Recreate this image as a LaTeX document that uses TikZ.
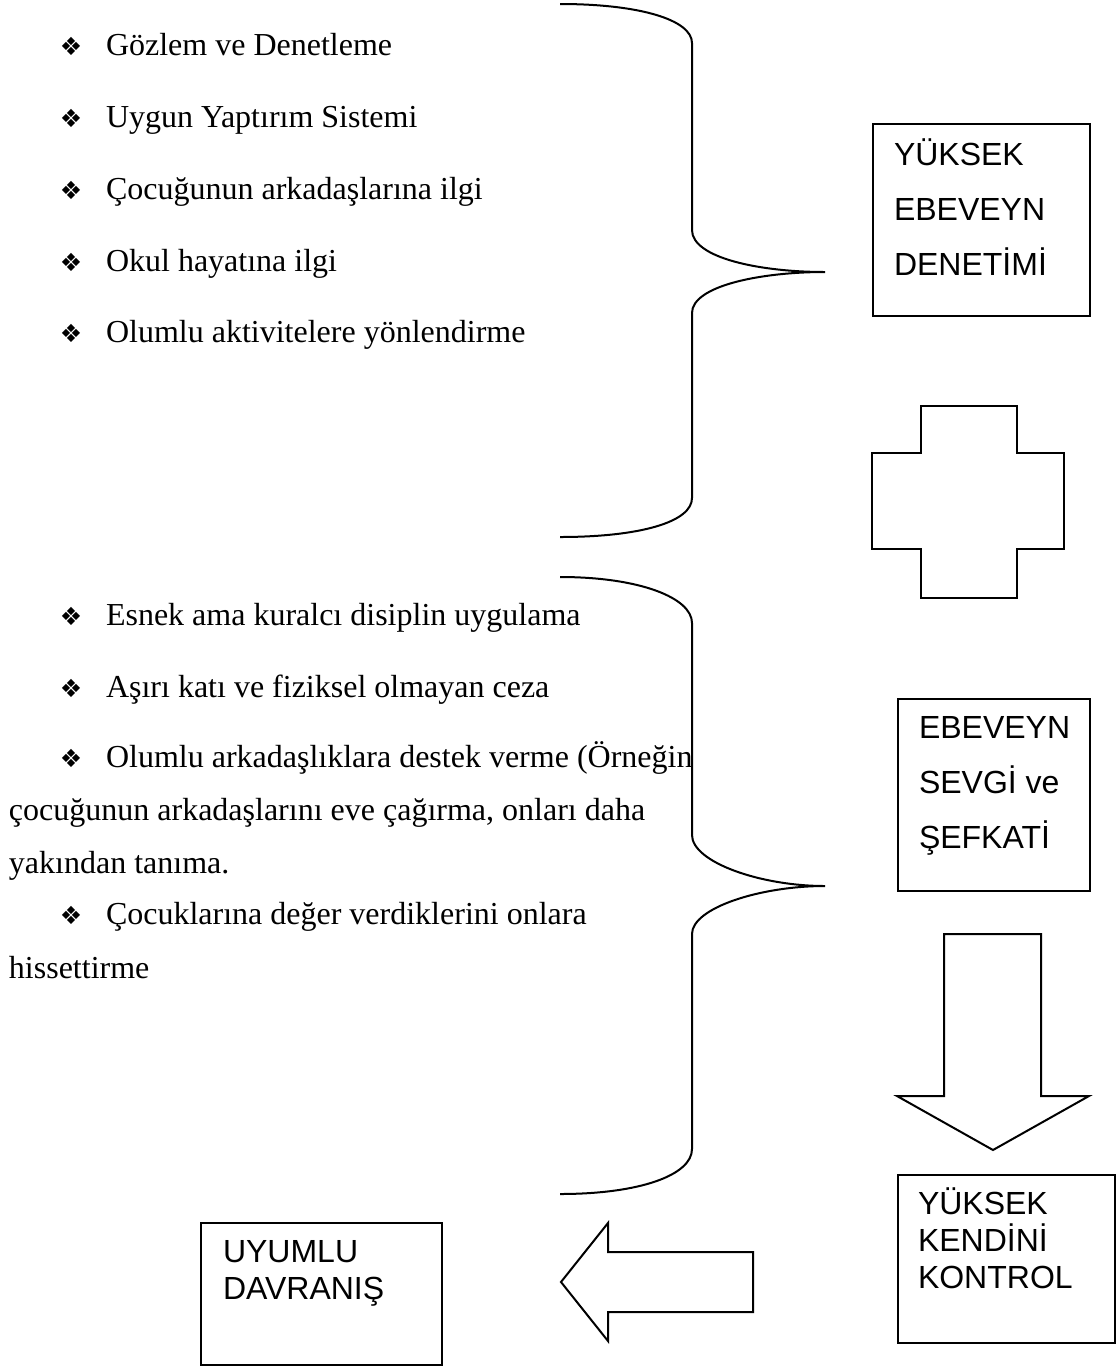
\documentclass[tikz,border=0pt]{standalone}
\usepackage{fontspec}
\setmainfont{Liberation Serif}
\setsansfont{Liberation Sans}
\newfontfamily\dejavu{DejaVu Sans}
\usetikzlibrary{positioning}

\begin{document}
\begin{tikzpicture}[x=0.5pt,y=-0.5pt,line width=1pt,line join=miter,
    entry/.style={anchor=base west,inner sep=0pt,font=\fontsize{16}{19}\selectfont},
    bul/.style={anchor=base,inner sep=0pt,font=\dejavu\fontsize{12.5}{14}\selectfont},
    boxtext/.style={anchor=base west,inner sep=0pt,font=\sffamily\fontsize{16}{19}\selectfont},
    panel/.style={draw,anchor=north west,inner sep=0pt}]

\useasboundingbox (0,0) rectangle (1119,1366);

% supervision list
\node [bul] (b1) at (71,55) {❖};
\node [entry] (gozlem) at (105,55) {Gözlem ve Denetleme};
\node [bul] (b2) at (71,127) {❖};
\node [entry] (yaptirim) at (105,127) {Uygun Yaptırım Sistemi};
\node [bul] (b3) at (71,199) {❖};
\node [entry] (arkadas) at (105,199) {Çocuğunun arkadaşlarına ilgi};
\node [bul] (b4) at (71,271) {❖};
\node [entry] (okul) at (105,271) {Okul hayatına ilgi};
\node [bul] (b5) at (71,342) {❖};
\node [entry] (aktivite) at (105,342) {Olumlu aktivitelere yönlendirme};

\draw (560,4) .. controls (640,4) and (692,20) .. (692,43) -- (692,230)
    .. controls (692,258) and (760,272) .. (825,272)
    .. controls (760,272) and (692,286) .. (692,313) -- (692,498)
    .. controls (692,522) and (640,537) .. (560,537);

\node [panel, minimum width=108.5pt, minimum height=96pt] (denetim) at (872,123) {};
\node [boxtext] (d1) at (893,165) {YÜKSEK};
\node [boxtext] (d2) at (893,220) {EBEVEYN};
\node [boxtext] (d3) at (893,275) {DENETİMİ};

% plus sign
\draw (921,406) -- (1017,406) -- (1017,453) -- (1064,453) -- (1064,549)
    -- (1017,549) -- (1017,598) -- (921,598) -- (921,549) -- (872,549)
    -- (872,453) -- (921,453) -- cycle;

% warmth list
\node [bul] (b6) at (71,625) {❖};
\node [entry] (esnek) at (105,625) {Esnek ama kuralcı disiplin uygulama};
\node [bul] (b7) at (71,697) {❖};
\node [entry] (ceza) at (105,697) {Aşırı katı ve fiziksel olmayan ceza};
\node [bul] (b8) at (71,767) {❖};
\node [entry] (destek) at (105,767) {Olumlu arkadaşlıklara destek verme (Örneğin};
\node [entry] (destek2) at (8,820) {çocuğunun arkadaşlarını eve çağırma, onları daha};
\node [entry] (destek3) at (8,873) {yakından tanıma.};
\node [bul] (b9) at (71,924) {❖};
\node [entry] (deger) at (105,924) {Çocuklarına değer verdiklerini onlara};
\node [entry] (deger2) at (8,978) {hissettirme};

\draw (560,577) .. controls (640,577) and (692,598) .. (692,623) -- (692,835)
    .. controls (692,862) and (760,886) .. (825,886)
    .. controls (760,886) and (692,908) .. (692,934) -- (692,1149)
    .. controls (692,1175) and (640,1194) .. (560,1194);

\node [panel, minimum width=96pt, minimum height=96pt] (sevgi) at (897,698) {};
\node [boxtext] (s1) at (918,738) {EBEVEYN};
\node [boxtext] (s2) at (918,793) {SEVGİ ve};
\node [boxtext] (s3) at (918,848) {ŞEFKATİ};

% result chain
\draw (944,934) -- (1041,934) -- (1041,1096) -- (1089,1096) -- (993,1150)
    -- (897,1096) -- (944,1096) -- cycle;

\node [panel, minimum width=108.5pt, minimum height=84pt] (kontrol) at (897,1174) {};
\node [boxtext] (k1) at (917,1214) {YÜKSEK};
\node [boxtext] (k2) at (917,1251) {KENDİNİ};
\node [boxtext] (k3) at (917,1288) {KONTROL};

\draw (753,1252) -- (753,1312) -- (608,1312) -- (608,1341) -- (561,1282)
    -- (608,1223) -- (608,1252) -- cycle;

\node [panel, minimum width=120.5pt, minimum height=71pt] (uyum) at (200,1222) {};
\node [boxtext] (u1) at (222,1262) {UYUMLU};
\node [boxtext] (u2) at (222,1299) {DAVRANIŞ};

\end{tikzpicture}
\end{document}
